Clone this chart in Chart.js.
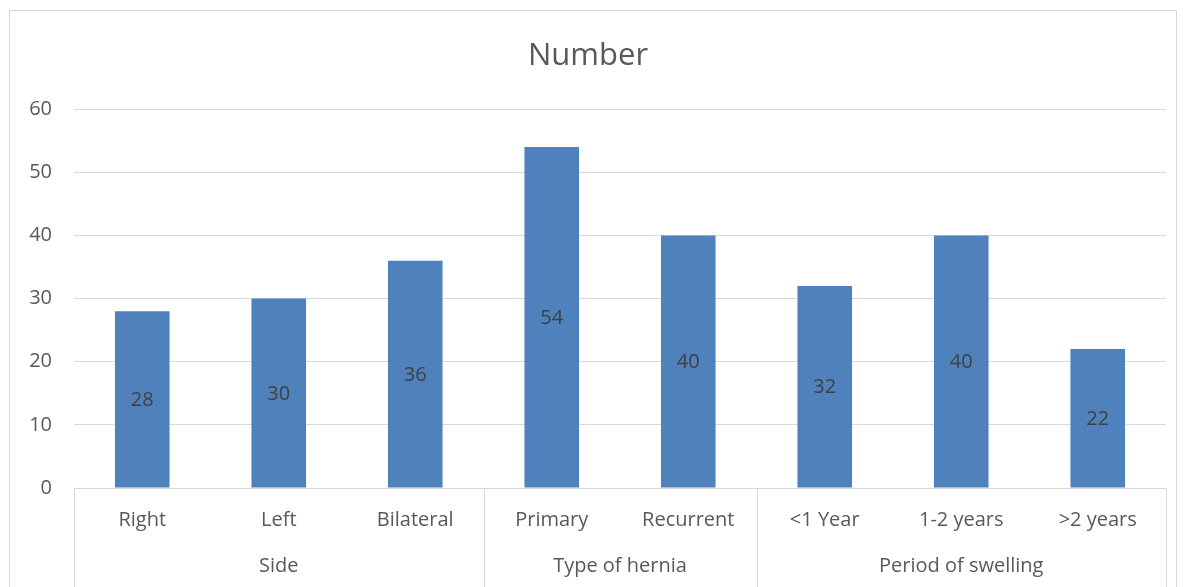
<!doctype html>
<html lang="en">
<head>
<meta charset="utf-8">
<title>Number</title>
<script src="https://cdn.jsdelivr.net/npm/chart.js@4"></script>
<style>
    body {
        margin: 0;
        background: #fff;
    }

    #holder {
        position: absolute;
        left: 9px;
        top: 10px;
        width: 1168px;
        height: 577px;
        border: 1px solid #d9d9d9;
        border-bottom: none;
        box-sizing: border-box;
    }
</style>
</head>

<body>
<div id="holder">
    <canvas id="chart-area"></canvas>
</div>

<script>
    var categories = ["Right", "Left", "Bilateral", "Primary", "Recurrent", "<1 Year", "1-2 years", ">2 years"];
    var values = [28, 30, 36, 54, 40, 32, 40, 22];
    var groups = ["Side", "Type of hernia", "Period of swelling"];
    var groupSizes = [3, 2, 3];
    var yTicks = [0, 10, 20, 30, 40, 50, 60];

    var fontFamily = "'Open Sans', 'Liberation Sans', sans-serif";
    var labelSize = 20;

    // value labels in the middle of each bar
    var barLabels = {
        id: 'barLabels',
        afterDatasetsDraw: function(chart) {
            var ctx = chart.ctx;
            var meta = chart.getDatasetMeta(0);
            ctx.save();
            ctx.font = labelSize + "px " + fontFamily;
            ctx.fillStyle = "#404040";
            ctx.textAlign = "center";
            ctx.textBaseline = "middle";
            meta.data.forEach(function(bar, i) {
                ctx.fillText(String(values[i]), bar.x, (bar.y + bar.base) / 2 + 1);
            });
            ctx.restore();
        }
    };

    // second level of the category axis: group names and separators
    var groupAxis = {
        id: 'groupAxis',
        afterDraw: function(chart) {
            var ctx = chart.ctx;
            var x = chart.scales.x;
            var area = chart.chartArea;
            var bottom = chart.height;
            var half = (x.getPixelForValue(1) - x.getPixelForValue(0)) / 2;
            ctx.save();
            ctx.strokeStyle = "#d9d9d9";
            ctx.lineWidth = 1;
            ctx.font = labelSize + "px " + fontFamily;
            ctx.fillStyle = "#595959";
            ctx.textAlign = "center";
            ctx.textBaseline = "middle";
            var start = 0;
            var edges = [Math.round(x.getPixelForValue(0) - half) + 0.5];
            groups.forEach(function(name, g) {
                var end = start + groupSizes[g] - 1;
                var left = x.getPixelForValue(start) - half;
                var right = x.getPixelForValue(end) + half;
                edges.push(Math.round(right) + 0.5);
                ctx.fillText(name, (left + right) / 2, area.bottom + 78);
                start = end + 1;
            });
            edges.forEach(function(px) {
                ctx.beginPath();
                ctx.moveTo(px, area.bottom);
                ctx.lineTo(px, bottom);
                ctx.stroke();
            });
            ctx.restore();
        }
    };

    var config = {
        type: 'bar',
        data: {
            labels: categories,
            datasets: [{
                label: 'Number',
                data: values,
                backgroundColor: '#4f81bd',
                borderWidth: 0,
                barPercentage: 0.4,
                categoryPercentage: 1.0
            }]
        },
        options: {
            responsive: true,
            maintainAspectRatio: false,
            animation: false,
            layout: {
                padding: { left: 0, right: 10, top: 0, bottom: 0 }
            },
            plugins: {
                legend: { display: false },
                tooltip: { enabled: false },
                title: {
                    display: true,
                    text: 'Number',
                    color: '#595959',
                    font: { family: fontFamily, size: 31, weight: 'normal' },
                    padding: { top: 27, bottom: 34 }
                }
            },
            scales: {
                x: {
                    grid: { display: false, drawTicks: false },
                    border: { display: true, color: '#d9d9d9', width: 1 },
                    ticks: {
                        color: '#595959',
                        font: { family: fontFamily, size: labelSize },
                        padding: 20,
                        maxRotation: 0,
                        autoSkip: false
                    },
                    afterFit: function(scale) {
                        scale.height = 99;
                    }
                },
                y: {
                    min: 0,
                    max: 60,
                    afterBuildTicks: function(scale) {
                        scale.ticks = yTicks.map(function(v) { return { value: v }; });
                    },
                    grid: { color: '#d9d9d9', lineWidth: 1, drawTicks: false },
                    border: { display: false },
                    ticks: {
                        color: '#595959',
                        font: { family: fontFamily, size: labelSize },
                        padding: 22
                    },
                    afterFit: function(scale) {
                        scale.width = 64;
                    }
                }
            }
        },
        plugins: [barLabels, groupAxis]
    };

    window.onload = function() {
        var ctx = document.getElementById("chart-area").getContext("2d");
        window.myBar = new Chart(ctx, config);
    };
</script>
</body>

</html>
